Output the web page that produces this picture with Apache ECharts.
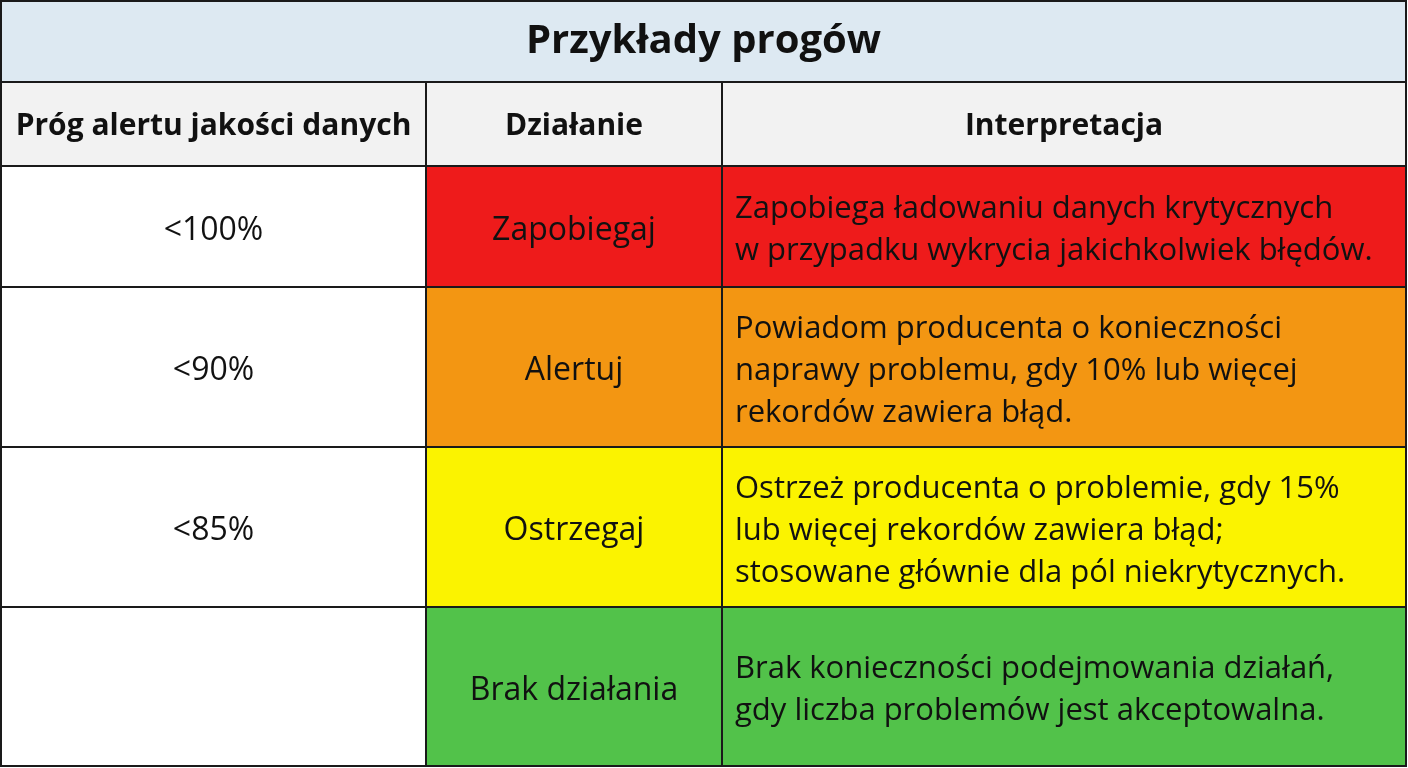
<!DOCTYPE html>
<html><head><meta charset="utf-8">
<script src="https://cdn.jsdelivr.net/npm/echarts@6/dist/echarts.min.js"></script>
<style>html,body{margin:0;padding:0;background:#fff}#c{width:1408px;height:768px}</style>
</head><body><div id="c"></div>
<script>
const title = 'Przykłady progów';
const headers = ['Próg alertu jakości danych', 'Działanie', 'Interpretacja'];
const thresholds = ['<100%', '<90%', '<85%', ''];
const actions = ['Zapobiegaj', 'Alertuj', 'Ostrzegaj', 'Brak działania'];
const interpretations = [
  'Zapobiega ładowaniu danych krytycznych\nw przypadku wykrycia jakichkolwiek błędów.',
  'Powiadom producenta o konieczności\nnaprawy problemu, gdy 10% lub więcej\nrekordów zawiera błąd.',
  'Ostrzeż producenta o problemie, gdy 15%\nlub więcej rekordów zawiera błąd;\nstosowane głównie dla pól niekrytycznych.',
  'Brak konieczności podejmowania działań,\ngdy liczba problemów jest akceptowalna.'
];
// layout / style
const colEdges = [1, 426, 722, 1406];
const rowEdges = [1, 82, 166, 287, 447, 607, 766];
const rowColors = ['#ee1b1b', '#f39612', '#fbf300', '#52c24a'];
const FONT = '"Open Sans", "Noto Sans", sans-serif';

const cells = [];
cells.push({kind:'title', c0:0, c1:3, r:0, text:title});
headers.forEach((h,i)=>cells.push({kind:'header', c0:i, c1:i+1, r:1, text:h}));
thresholds.forEach((t,i)=>{
  cells.push({kind:'plain', c0:0, c1:1, r:i+2, text:t});
  cells.push({kind:'color', c0:1, c1:2, r:i+2, text:actions[i], color:rowColors[i]});
  cells.push({kind:'interp', c0:2, c1:3, r:i+2, text:interpretations[i], color:rowColors[i]});
});

const chart = echarts.init(document.getElementById('c'));
chart.setOption({
  animation:false,
  grid:{left:0,right:0,top:0,bottom:0},
  xAxis:{type:'value',min:0,max:1408,show:false},
  yAxis:{type:'value',min:0,max:768,inverse:true,show:false},
  series:[{
    type:'custom',
    data: cells.map((c,i)=>[i]),
    renderItem:(params, api)=>{
      const c = cells[api.value(0)];
      const p0 = api.coord([colEdges[c.c0], rowEdges[c.r]]);
      const p1 = api.coord([colEdges[c.c1], rowEdges[c.r+1]]);
      const w = p1[0]-p0[0], h = p1[1]-p0[1];
      let fill = '#ffffff', font = 'normal 32px '+FONT, align='center', tx = p0[0]+w/2, dy = 4;
      if (c.kind==='title'){fill='#dde9f2'; font='bold 40px '+FONT; dy=0;}
      else if (c.kind==='header'){fill='#f2f2f2'; font='bold 30px '+FONT; dy=2;}
      else if (c.kind==='color'){fill=c.color;}
      else if (c.kind==='interp'){fill=c.color; align='left'; tx=p0[0]+13; font='normal 31px '+FONT;}
      return {type:'group', children:[
        {type:'rect', shape:{x:p0[0],y:p0[1],width:w,height:h},
          style:{fill:fill, stroke:'#1a1a1a', lineWidth:2}},
        {type:'text', style:{x:tx, y:p0[1]+h/2 + dy, text:c.text, font:font,
          fill:'#111', align:align, verticalAlign:'middle', lineHeight:42}}
      ]};
    }
  }]
});
</script></body></html>
